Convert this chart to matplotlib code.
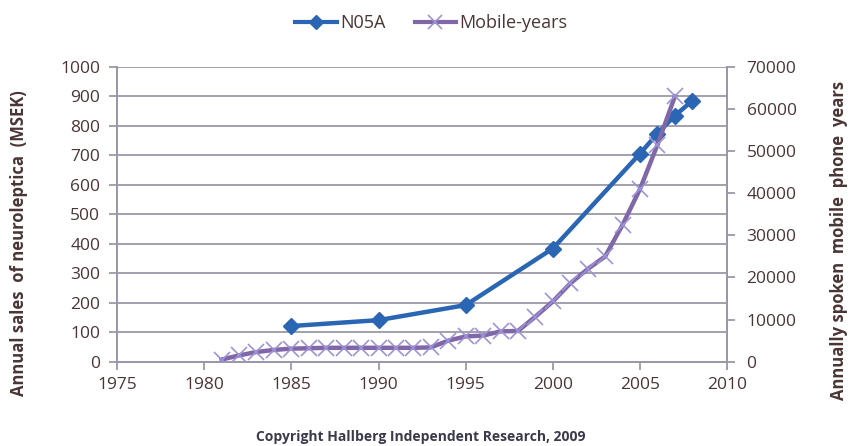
import matplotlib
matplotlib.use("Agg")
import matplotlib.pyplot as plt
from matplotlib.lines import Line2D

# Data
n05a_years = [1985, 1990, 1995, 2000, 2005, 2006, 2007, 2008]
n05a_values = [121, 141, 192, 384, 706, 774, 835, 885]

mobile_years = list(range(1981, 2008))
mobile_values = [500, 1500, 2300, 2800, 3100, 3200, 3300, 3300, 3300, 3300,
                 3300, 3300, 3400, 5000, 6000, 6200, 7200, 7300, 10700, 14300,
                 18600, 22000, 25000, 32500, 41000, 51500, 63000]

x_ticks = [1975, 1980, 1985, 1990, 1995, 2000, 2005, 2010]
left_ticks = list(range(0, 1001, 100))
right_ticks = list(range(0, 70001, 10000))

plt.rcParams['font.family'] = ['Open Sans', 'DejaVu Sans']
txt = '#4a3535'
grid_c = '#9a98a6'
blue = '#2a66b3'
purple = '#8067a8'
cross_c = '#9c94d6'

fig = plt.figure(figsize=(8.51, 4.46), dpi=100)
ax = fig.add_axes([0.1375, 0.189, 0.717, 0.661])
ax2 = ax.twinx()

ax.plot(n05a_years, n05a_values, color=blue, lw=3.2, marker='D', ms=8,
        mfc=blue, mec=blue, label='N05A', zorder=3)
ax2.plot(mobile_years, mobile_values, color=purple, lw=3.2, marker='x', ms=11,
         mew=1.2, mec=cross_c, label='Mobile-years', zorder=3)

ax.set_xlim(1975, 2010)
ax.set_ylim(0, 1000)
ax2.set_ylim(0, 70000)
ax.set_xticks(x_ticks)
ax.set_yticks(left_ticks)
ax2.set_yticks(right_ticks)

ax.yaxis.grid(True, color=grid_c, lw=1.3)
ax.set_axisbelow(True)

for a in (ax, ax2):
    for s in a.spines.values():
        s.set_color(grid_c)
        s.set_linewidth(1.3)
    a.spines['top'].set_visible(False)
    a.tick_params(colors=grid_c, labelcolor=txt, labelsize=12.5, width=1.3, length=6)

ax.tick_params(axis='x', pad=5)
ax.tick_params(axis='y', pad=6)
ax2.tick_params(axis='y', pad=8)

fig.text(0.022, 0.455, 'Annual sales  of neuroleptica  (MSEK)', color=txt, fontsize=12,
         fontweight='bold', rotation=90, ha='center', va='center')
fig.text(0.986, 0.46, 'Annually spoken  mobile  phone  years', color=txt, fontsize=12,
         fontweight='bold', rotation=90, ha='center', va='center')

handles = [Line2D([], [], color=blue, lw=3, marker='D', ms=7),
           Line2D([], [], color=purple, lw=3, marker='x', ms=10, mew=1.2, mec=cross_c)]
fig.legend(handles, ['N05A', 'Mobile-years'], loc='center', bbox_to_anchor=(0.507, 0.948),
           ncol=2, frameon=False, fontsize=13, labelcolor=txt, handlelength=2.3,
           handletextpad=0.2, columnspacing=1.6)

fig.text(0.495, 0.02, 'Copyright Hallberg Independent Research, 2009', ha='center',
         va='center', fontsize=10, fontweight='bold', color='#3a3a4a')

fig.savefig('out.png', dpi=100)
